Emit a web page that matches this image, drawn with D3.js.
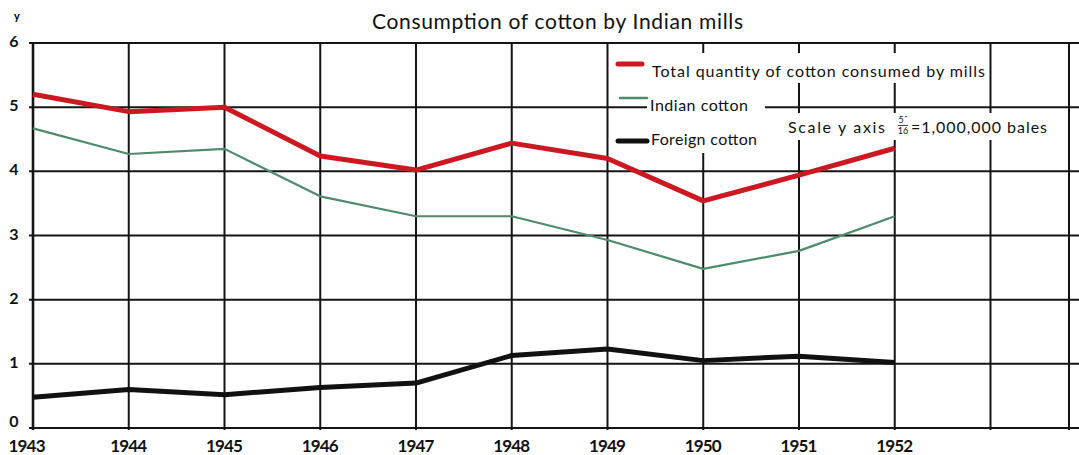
<!DOCTYPE html>
<html>
<head>
<meta charset="utf-8">
<script src="https://cdn.jsdelivr.net/npm/d3@7"></script>
<style>
  body { margin: 0; background: #fff; }
  svg { display: block; font-family: Lato, "DejaVu Sans", sans-serif; }
</style>
</head>
<body>
<div id="chart"></div>
<script>
// values (millions of bales)
var years = [1943, 1944, 1945, 1946, 1947, 1948, 1949, 1950, 1951, 1952];
var totalConsumed = [5.2, 4.93, 5.0, 4.24, 4.02, 4.44, 4.2, 3.54, 3.94, 4.36];
var indianCotton = [4.67, 4.27, 4.35, 3.61, 3.3, 3.3, 2.93, 2.48, 2.76, 3.3];
var foreignCotton = [0.48, 0.6, 0.52, 0.63, 0.7, 1.13, 1.23, 1.05, 1.12, 1.02];
var yTicks = [0, 1, 2, 3, 4, 5, 6];
var gridYears = [1943, 1944, 1945, 1946, 1947, 1948, 1949, 1950, 1951, 1952, 1953, 1953.82];

var width = 1079, height = 455;

var svg = d3.select("#chart").append("svg")
  .attr("width", width)
  .attr("height", height);

var x = d3.scaleLinear().domain([1943, 1953.82]).range([33, 1069]);
var y = d3.scaleLinear().domain([0, 6]).range([428, 43]);

// grid
var grid = svg.append("g").attr("stroke", "#141414").attr("stroke-width", 2);
grid.selectAll("line.h")
  .data(yTicks)
  .enter().append("line")
  .attr("class", "h")
  .attr("x1", x(1943) - 4)
  .attr("x2", width)
  .attr("y1", function(d) { return y(d); })
  .attr("y2", function(d) { return y(d); });
grid.selectAll("line.v")
  .data(gridYears)
  .enter().append("line")
  .attr("class", "v")
  .attr("x1", function(d) { return x(d); })
  .attr("x2", function(d) { return x(d); })
  .attr("y1", y(6) - 1)
  .attr("y2", y(0) + 2)
  .attr("stroke-width", function(d, i) { return i === 0 ? 2.6 : 2; });

// y tick labels
svg.append("g").selectAll("text")
  .data(yTicks)
  .enter().append("text")
  .attr("x", 14)
  .attr("y", function(d) { return y(d) + (d === 0 ? -1 : 4); })
  .attr("text-anchor", "middle")
  .attr("font-size", 16)
  .attr("font-weight", "bold")
  .attr("fill", "#111")
  .text(function(d) { return d; });

svg.append("text")
  .attr("x", 17).attr("y", 20)
  .attr("text-anchor", "middle")
  .attr("font-size", 11)
  .attr("font-weight", "bold")
  .text("y");

// year labels
svg.append("g").selectAll("text")
  .data(years)
  .enter().append("text")
  .attr("x", function(d, i) { return x(d) - (i === 0 ? 6 : 0); })
  .attr("y", 452)
  .attr("text-anchor", "middle")
  .attr("font-size", 17)
  .attr("font-weight", "bold")
  .attr("fill", "#111")
  .attr("textLength", 37)
  .text(function(d) { return d; });

// title
svg.append("text")
  .attr("x", 372).attr("y", 29)
  .attr("font-size", 21)
  .attr("fill", "#111")
  .attr("textLength", 371)
  .text("Consumption of cotton by Indian mills");

// white knockouts behind legend text
var knockouts = [
  [613, 53, 375, 30],
  [647, 83, 118, 33],
  [613, 116, 177, 37],
  [782, 113, 270, 27]
];
svg.append("g").selectAll("rect")
  .data(knockouts)
  .enter().append("rect")
  .attr("x", function(d) { return d[0]; })
  .attr("y", function(d) { return d[1]; })
  .attr("width", function(d) { return d[2]; })
  .attr("height", function(d) { return d[3]; })
  .attr("fill", "#fff");

// lines
var series = [
  { values: indianCotton, color: "#4e8b6c", w: 2.2 },
  { values: foreignCotton, color: "#111", w: 5 },
  { values: totalConsumed, color: "#cc1820", w: 5 }
];
var line = d3.line()
  .x(function(d) { return x(d[0]); })
  .y(function(d) { return y(d[1]); });
svg.append("g").selectAll("path")
  .data(series)
  .enter().append("path")
  .attr("fill", "none")
  .attr("stroke", function(d) { return d.color; })
  .attr("stroke-width", function(d) { return d.w; })
  .attr("stroke-linejoin", "round")
  .attr("d", function(d) {
    return line(years.map(function(yr, i) { return [yr, d.values[i]]; }));
  });

// legend
var legendItems = [
  { label: "Total quantity of cotton consumed by mills", color: "#cc1820", w: 5, sx: 618, sy: 64, len: 24, tx: 652, ty: 77, tl: 333 },
  { label: "Indian cotton", color: "#4e8b6c", w: 2.5, sx: 620, sy: 98, len: 27, tx: 650, ty: 111, tl: 98 },
  { label: "Foreign cotton", color: "#111", w: 5, sx: 618, sy: 141, len: 29, tx: 651, ty: 145, tl: 106 }
];
var lg = svg.append("g");
lg.selectAll("line")
  .data(legendItems)
  .enter().append("line")
  .attr("x1", function(d) { return d.sx; })
  .attr("x2", function(d) { return d.sx + d.len; })
  .attr("y1", function(d) { return d.sy; })
  .attr("y2", function(d) { return d.sy; })
  .attr("stroke", function(d) { return d.color; })
  .attr("stroke-width", function(d) { return d.w; })
  .attr("stroke-linecap", "round");
lg.selectAll("text")
  .data(legendItems)
  .enter().append("text")
  .attr("x", function(d) { return d.tx; })
  .attr("y", function(d) { return d.ty; })
  .attr("font-size", 16)
  .attr("fill", "#111")
  .attr("textLength", function(d) { return d.tl; })
  .text(function(d) { return d.label; });

// scale note
var note = svg.append("g").attr("fill", "#111");
note.append("text")
  .attr("x", 788).attr("y", 133)
  .attr("font-size", 16)
  .attr("textLength", 97)
  .text("Scale  y axis");
note.append("text")
  .attr("x", 903).attr("y", 123)
  .attr("text-anchor", "middle")
  .attr("font-size", 9)
  .text("5\u02dd");
note.append("line")
  .attr("x1", 898).attr("x2", 908)
  .attr("y1", 125.5).attr("y2", 125.5)
  .attr("stroke", "#111").attr("stroke-width", 0.8);
note.append("text")
  .attr("x", 903).attr("y", 134)
  .attr("text-anchor", "middle")
  .attr("font-size", 9)
  .text("16");
note.append("text")
  .attr("x", 911).attr("y", 133)
  .attr("font-size", 16)
  .attr("textLength", 136)
  .text("=1,000,000 bales");
</script>
</body>
</html>
